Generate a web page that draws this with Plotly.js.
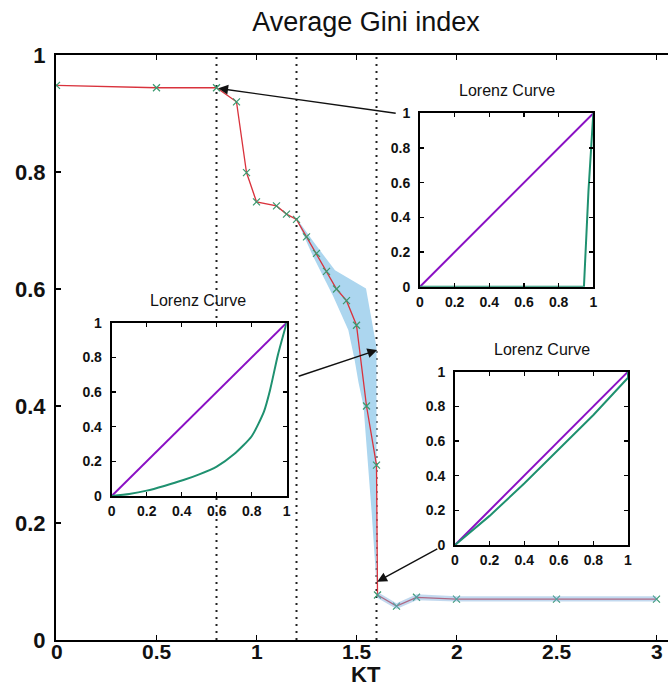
<!DOCTYPE html>
<html>
<head>
<meta charset="utf-8">
<script src="https://cdn.plot.ly/plotly-3.0.1.min.js"></script>
<style>html,body{margin:0;padding:0;background:#fff;}#chart{width:668px;height:686px;}</style>
</head>
<body>
<div id="chart"></div>
<script>
// ---- main series: average Gini index vs KT ----
const kt   = [0, 0.5, 0.8, 0.9, 0.95, 1.0, 1.1, 1.15, 1.2, 1.25, 1.3, 1.35, 1.4, 1.45, 1.5, 1.55, 1.6, 1.605, 1.7, 1.8, 2.0, 2.5, 3.0];
const gini = [0.948, 0.944, 0.944, 0.920, 0.799, 0.749, 0.742, 0.728, 0.719, 0.689, 0.661, 0.630, 0.600, 0.580, 0.538, 0.400, 0.299, 0.077, 0.058, 0.073, 0.070, 0.070, 0.070];

// spread band (left / lower edge and right / upper edge)
const bandLowKT  = [1.2, 1.284, 1.384, 1.459, 1.49, 1.51, 1.535, 1.551, 1.576, 1.6];
const bandLowV   = [0.719, 0.655, 0.587, 0.530, 0.48, 0.44, 0.40, 0.33, 0.217, 0.095];
const bandHighKT = [1.2, 1.284, 1.3925, 1.5475, 1.6, 1.6];
const bandHighV  = [0.721, 0.681, 0.632, 0.601, 0.501, 0.095];
// thin band on the tail
const tailKT   = [1.605, 1.7, 1.8, 2.0, 2.5, 3.0];
const tailLow  = [0.072, 0.053, 0.068, 0.066, 0.066, 0.066];
const tailHigh = [0.082, 0.063, 0.078, 0.075, 0.075, 0.075];

// vertical reference lines
const refKT = [0.8, 1.2, 1.6];

// x tick labels of the main axis
const xTickVals = [0, 0.5, 1, 1.5, 2, 2.5, 3];
const xTickText = ['0', '0.5', '1', '1.5', '2', '2.5', '3'];

// ---- Lorenz curves ----
const eqX = [0, 1], eqY = [0, 1];
const lorA_x = [0, 0.946, 0.972, 1];
const lorA_y = [0, 0, 0.55, 1];
const lorB_x = [0, 0.1, 0.2, 0.3, 0.41, 0.5, 0.6, 0.7, 0.8, 0.87, 0.905, 0.95, 1];
const lorB_y = [0, 0.012, 0.031, 0.058, 0.092, 0.125, 0.17, 0.242, 0.345, 0.487, 0.612, 0.815, 1];
const lorC_x = [0, 0.2, 0.4, 0.6, 0.8, 1, 1];
const lorC_y = [0, 0.168, 0.355, 0.55, 0.75, 0.965, 1];

const insetTitle = 'Lorenz Curve';
const mainTitle = 'Average Gini index';
const xTitle = 'KT';

const FONT = 'Liberation Sans, Arial, Helvetica, sans-serif';
const PURPLE = '#8a10c4', GREEN = '#1f9170';

// build reference-line trace
const refX = [], refY = [];
refKT.forEach(k => { refX.push(k, k, null); refY.push(0, 1, null); });

const traces = [
  { x: refX, y: refY, mode: 'lines', xaxis: 'x', yaxis: 'y',
    line: { color: '#222', width: 2, dash: '2px,5px' }, hoverinfo: 'skip' },
  { x: bandLowKT.concat(bandHighKT.slice().reverse()),
    y: bandLowV.concat(bandHighV.slice().reverse()),
    mode: 'lines', fill: 'toself', fillcolor: '#acd6ef', line: { width: 0 },
    xaxis: 'x', yaxis: 'y', hoverinfo: 'skip' },
  { x: kt, y: gini, mode: 'lines+markers', xaxis: 'x', yaxis: 'y',
    line: { color: '#d9323c', width: 1.3 },
    marker: { symbol: 'x-thin', size: 7, line: { width: 1.2, color: '#3a9a70' } } },
  { x: tailKT.concat(tailKT.slice().reverse()),
    y: tailLow.concat(tailHigh.slice().reverse()),
    mode: 'lines', fill: 'toself', fillcolor: 'rgba(120,170,220,0.45)', line: { width: 0 },
    xaxis: 'x', yaxis: 'y', hoverinfo: 'skip' },
  // insets
  { x: eqX, y: eqY, mode: 'lines', xaxis: 'x2', yaxis: 'y2', line: { color: PURPLE, width: 2 } },
  { x: lorA_x, y: lorA_y, mode: 'lines', xaxis: 'x2', yaxis: 'y2', line: { color: GREEN, width: 2 } },
  { x: eqX, y: eqY, mode: 'lines', xaxis: 'x3', yaxis: 'y3', line: { color: PURPLE, width: 2 } },
  { x: lorB_x, y: lorB_y, mode: 'lines', xaxis: 'x3', yaxis: 'y3', line: { color: GREEN, width: 2, shape: 'spline', smoothing: 0.6 } },
  { x: eqX, y: eqY, mode: 'lines', xaxis: 'x4', yaxis: 'y4', line: { color: PURPLE, width: 2 } },
  { x: lorC_x, y: lorC_y, mode: 'lines', xaxis: 'x4', yaxis: 'y4', line: { color: GREEN, width: 2 } }
];

function insetAxis(dom, anchor, isY) {
  return { domain: dom, anchor: anchor, range: [0, 1], dtick: 0.2, tick0: 0,
    ticks: 'inside', ticklen: 4, tickwidth: 1.3, tickcolor: '#000', mirror: 'ticks',
    showline: true, linewidth: 2, linecolor: '#000', showgrid: false, zeroline: false,
    ticklabelstandoff: isY ? 5 : 1,
    tickfont: { family: FONT, size: 14, color: '#111', weight: 'bold' }, fixedrange: true };
}

const px = v => (v - 56) / 612;
const py = v => (640 - v) / 585;

const annotations = [
  { text: xTitle, xref: 'paper', yref: 'paper', x: px(366), y: py(674), showarrow: false,
    xanchor: 'center', yanchor: 'middle', font: { family: FONT, size: 22, color: '#111', weight: 'bold' } },
  { text: insetTitle, xref: 'paper', yref: 'paper', x: px(506.7), y: py(90.7), showarrow: false,
    xanchor: 'center', yanchor: 'middle', font: { family: FONT, size: 16, color: '#111' } },
  { text: insetTitle, xref: 'paper', yref: 'paper', x: px(198), y: py(300.7), showarrow: false,
    xanchor: 'center', yanchor: 'middle', font: { family: FONT, size: 16, color: '#111' } },
  { text: insetTitle, xref: 'paper', yref: 'paper', x: px(541.7), y: py(349), showarrow: false,
    xanchor: 'center', yanchor: 'middle', font: { family: FONT, size: 16, color: '#111' } },
  { text: '', xref: 'x', yref: 'y', x: 0.809, y: 0.943, axref: 'x', ayref: 'y', ax: 1.7035, ay: 0.900,
    showarrow: true, arrowhead: 2, arrowsize: 1.4, arrowwidth: 1.4, arrowcolor: '#111', standoff: 0 },
  { text: '', xref: 'x', yref: 'y', x: 1.6035, y: 0.4957, axref: 'x', ayref: 'y', ax: 1.2035, ay: 0.450,
    showarrow: true, arrowhead: 2, arrowsize: 1.4, arrowwidth: 1.4, arrowcolor: '#111', standoff: 0 },
  { text: '', xref: 'x', yref: 'y', x: 1.6035, y: 0.0997, axref: 'x', ayref: 'y', ax: 1.9115, ay: 0.157,
    showarrow: true, arrowhead: 2, arrowsize: 1.4, arrowwidth: 1.4, arrowcolor: '#111', standoff: 0 }
];
xTickVals.forEach((v, i) => annotations.push({
  text: xTickText[i], xref: 'x', yref: 'paper', x: v, y: py(651), showarrow: false,
  xanchor: 'center', yanchor: 'middle', font: { family: FONT, size: 21, color: '#111', weight: 'bold' }
}));

const layout = {
  width: 668, height: 686,
  margin: { l: 56, r: 0, t: 55, b: 46 },
  paper_bgcolor: '#fff', plot_bgcolor: '#fff',
  showlegend: false,
  font: { family: FONT, color: '#111' },
  title: { text: mainTitle, font: { family: FONT, size: 27, color: '#111' },
           xref: 'container', x: 366 / 668, xanchor: 'center', yref: 'container', y: 1 - 22 / 686, yanchor: 'middle' },
  xaxis: { domain: [0, 1], anchor: 'y', range: [-0.0025, 3.0575], tickvals: xTickVals,
    ticks: 'inside', ticklen: 5, tickwidth: 1.5, tickcolor: '#000', mirror: 'ticks',
    showline: true, linewidth: 2, linecolor: '#000', showgrid: false, zeroline: false,
    showticklabels: false },
  yaxis: { domain: [0, 1], anchor: 'x', range: [0, 1], dtick: 0.2, tick0: 0,
    ticks: 'inside', ticklen: 5, tickwidth: 1.5, tickcolor: '#000',
    showline: true, linewidth: 2, linecolor: '#000', showgrid: false, zeroline: false,
    ticklabelstandoff: 4,
    tickfont: { family: FONT, size: 22, color: '#111', weight: 'bold' } },
  xaxis2: insetAxis([px(420), px(593.3)], 'y2', false),
  yaxis2: insetAxis([py(286.7), py(113.3)], 'x2', true),
  xaxis3: insetAxis([px(111.7), px(286.7)], 'y3', false),
  yaxis3: insetAxis([py(496), py(322.7)], 'x3', true),
  xaxis4: insetAxis([px(455), px(628)], 'y4', false),
  yaxis4: insetAxis([py(545), py(371.7)], 'x4', true),
  annotations: annotations
};

Plotly.newPlot('chart', traces, layout, { displayModeBar: false, staticPlot: true });
</script>
</body>
</html>
